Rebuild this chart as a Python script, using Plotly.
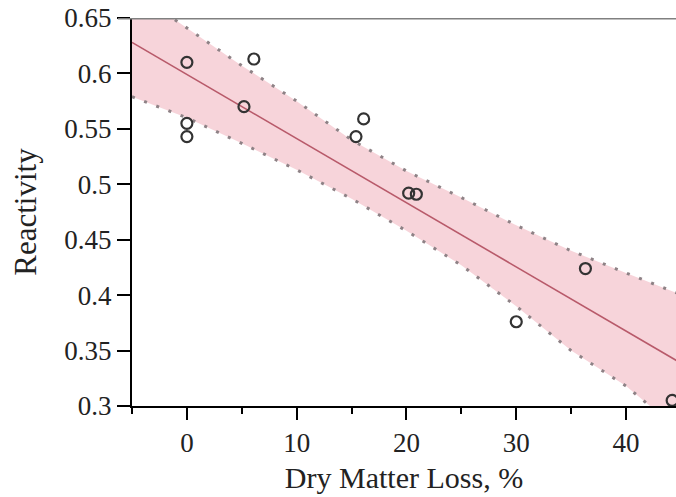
import plotly.graph_objects as go

# ---- data ----
dml = [0, 0, 0, 6.1, 5.2, 16.1, 15.4, 20.2, 20.9, 30.0, 36.3, 44.2]
reactivity = [0.610, 0.555, 0.543, 0.613, 0.570, 0.559, 0.543, 0.492, 0.491, 0.376, 0.424, 0.305]

fit_x = [-5, 44.6]
fit_y = [0.628, 0.341]

band_x = [-5, 0, 5, 10, 15, 20, 25, 30, 35, 40, 44.6]
band_upper = [0.675, 0.641, 0.607, 0.575, 0.540, 0.512, 0.488, 0.463, 0.440, 0.420, 0.402]
band_lower = [0.579, 0.560, 0.537, 0.513, 0.487, 0.458, 0.427, 0.390, 0.350, 0.318, 0.280]

x_major = [0, 10, 20, 30, 40]
y_ticks = [0.3, 0.35, 0.4, 0.45, 0.5, 0.55, 0.6, 0.65]
y_labels = ["0.3", "0.35", "0.4", "0.45", "0.5", "0.55", "0.6", "0.65"]

FONT = "Liberation Serif"
TXT = "#222222"

fig = go.Figure()

# filled prediction band
fig.add_trace(go.Scatter(
    x=band_x + band_x[::-1],
    y=band_upper + band_lower[::-1],
    fill="toself", fillcolor="rgba(244,198,206,0.75)",
    line=dict(width=0), mode="lines", hoverinfo="skip", showlegend=False))

# dotted band edges
for yy in (band_upper, band_lower):
    fig.add_trace(go.Scatter(
        x=band_x, y=yy, mode="lines",
        line=dict(color="#8e8286", width=3, dash="3px,10px"),
        showlegend=False, hoverinfo="skip"))

# regression line
fig.add_trace(go.Scatter(
    x=fit_x, y=fit_y, mode="lines",
    line=dict(color="#b85a6a", width=1.6), showlegend=False))

# data points
fig.add_trace(go.Scatter(
    x=dml, y=reactivity, mode="markers",
    marker=dict(symbol="circle-open", size=11, color="#333333",
                line=dict(width=2.2, color="#333333")),
    cliponaxis=False, showlegend=False))

fig.update_layout(
    width=676, height=497,
    margin=dict(l=132, r=0, t=18, b=91),
    paper_bgcolor="white", plot_bgcolor="white",
    font=dict(family=FONT, color=TXT, size=27),
    shapes=[dict(type="line", xref="paper", yref="y",
                 x0=-0.026, x1=1, y0=0.65, y1=0.65,
                 line=dict(color="#808080", width=3), layer="above")],
)

fig.update_xaxes(
    range=[-5, 44.55], showgrid=False, zeroline=False,
    showline=True, linecolor="black", linewidth=2,
    tickvals=x_major, ticks="outside", ticklen=12, tickwidth=2, tickcolor="black",
    tickfont=dict(family=FONT, size=27, color=TXT),
    minor=dict(dtick=5, tick0=0, ticks="outside", ticklen=6, tickwidth=2, tickcolor="black"),
    title=dict(text="Dry Matter Loss, %", font=dict(family=FONT, size=30, color=TXT),
               standoff=10),
)
fig.update_yaxes(
    range=[0.3, 0.65], showgrid=False, zeroline=False,
    showline=True, linecolor="black", linewidth=2,
    tickvals=y_ticks, ticktext=y_labels,
    ticks="outside", ticklen=13, tickwidth=2, tickcolor="black",
    tickfont=dict(family=FONT, size=27, color=TXT),
    title=dict(text="Reactivity", font=dict(family=FONT, size=31, color=TXT),
               standoff=18),
)

fig.write_html("out.html")
